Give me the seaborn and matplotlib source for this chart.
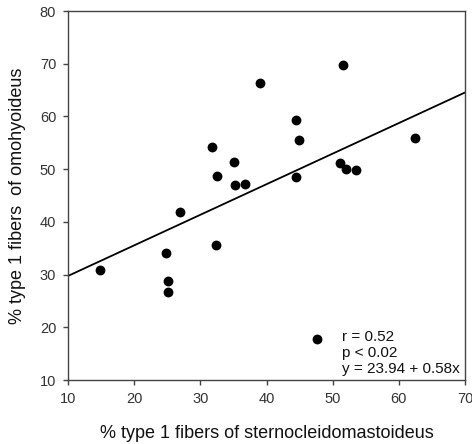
import matplotlib
matplotlib.use("Agg")
import matplotlib.pyplot as plt
import seaborn as sns
import numpy as np
import pandas as pd

# data
scm = [14.8, 24.8, 25.1, 25.1, 27.0, 31.75, 32.5, 32.4, 35.1, 35.2, 36.8, 39.0,
       44.4, 44.4, 44.9, 47.6, 51.1, 51.6, 52.0, 53.5, 62.4]
omo = [30.8, 34.1, 28.8, 26.6, 41.9, 54.25, 48.75, 35.7, 51.3, 46.9, 47.2, 66.3,
       59.3, 48.6, 55.6, 17.7, 51.1, 69.7, 50.1, 49.8, 56.0]
intercept = 23.94
slope = 0.58
line_x = [10, 70]
xticks = [10, 20, 30, 40, 50, 60, 70]
yticks = [10, 20, 30, 40, 50, 60, 70, 80]
stats_text = ["r = 0.52", "p < 0.02", "y = 23.94 + 0.58x"]

sns.set_theme(style="ticks")
plt.rcParams['font.family'] = ['Liberation Sans', 'DejaVu Sans']

df = pd.DataFrame({"scm": scm, "omo": omo})

fig = plt.figure(figsize=(4.72, 4.44), dpi=100)
ax = fig.add_axes([68/472, 64/444, 397/472, 369/444])

sns.scatterplot(data=df, x="scm", y="omo", ax=ax, color="black", s=50,
                edgecolor="black", linewidth=0, zorder=3)
lx = np.array(line_x, dtype=float)
ax.plot(lx, intercept + slope * lx, color="black", lw=1.3, zorder=2)

ax.set_xlim(10, 70)
ax.set_ylim(10, 80)
ax.set_xticks(xticks)
ax.set_yticks(yticks)
ax.tick_params(direction="out", length=3.5, width=1, colors="#444444",
               labelsize=10.5, labelcolor="#333333", pad=5)
for sp in ax.spines.values():
    sp.set_visible(True)
    sp.set_color("#444444")
    sp.set_linewidth(1.0)

ax.set_xlabel("% type 1 fibers of sternocleidomastoideus", fontsize=13,
              color="#111111", labelpad=14)
ax.set_ylabel("% type 1 fibers  of omohyoideus", fontsize=13,
              color="#111111", labelpad=10)

ax.text(0.69, 0.012, "\n".join(stats_text), transform=ax.transAxes,
        ha="left", va="bottom", fontsize=11, color="#111111", linespacing=1.15)

fig.savefig("out.png", dpi=100)
